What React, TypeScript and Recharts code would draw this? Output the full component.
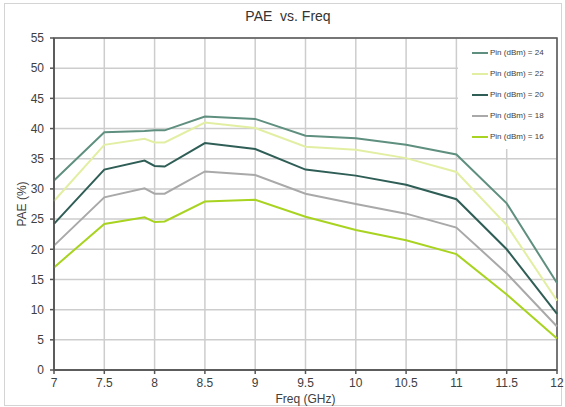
import { CartesianGrid, Line, LineChart, ReferenceArea, XAxis, YAxis } from "recharts";

const freq = [7, 7.5, 7.9, 8, 8.1, 8.5, 9, 9.5, 10, 10.5, 11, 11.5, 12];
const pin24 = [31.4, 39.4, 39.6, 39.7, 39.7, 42.0, 41.6, 38.8, 38.4, 37.3, 35.7, 27.6, 14.4];
const pin22 = [28.0, 37.3, 38.3, 37.7, 37.7, 41.0, 40.1, 37.0, 36.5, 35.1, 32.8, 24.0, 11.5];
const pin20 = [24.2, 33.2, 34.7, 33.8, 33.7, 37.6, 36.6, 33.2, 32.2, 30.7, 28.3, 20.0, 9.3];
const pin18 = [20.6, 28.6, 30.1, 29.2, 29.2, 32.9, 32.3, 29.2, 27.5, 25.9, 23.6, 16.0, 7.2];
const pin16 = [17.0, 24.2, 25.3, 24.5, 24.6, 27.9, 28.2, 25.4, 23.2, 21.5, 19.2, 12.5, 5.2];

const xTicks = [7, 7.5, 8, 8.5, 9, 9.5, 10, 10.5, 11, 11.5, 12];
const yTicks = [0, 5, 10, 15, 20, 25, 30, 35, 40, 45, 50, 55];

const series = [
  { key: "p24", name: "Pin (dBm) = 24", color: "#5f8f7f" },
  { key: "p22", name: "Pin (dBm) = 22", color: "#e2efa3" },
  { key: "p20", name: "Pin (dBm) = 20", color: "#2f5e56" },
  { key: "p18", name: "Pin (dBm) = 18", color: "#a9a9a9" },
  { key: "p16", name: "Pin (dBm) = 16", color: "#a8d320" },
];

const data = freq.map((f, i) => ({
  f,
  p24: pin24[i],
  p22: pin22[i],
  p20: pin20[i],
  p18: pin18[i],
  p16: pin16[i],
}));

const font = "'Liberation Sans', Arial, sans-serif";
const textColor = "#404040";

function LegendBox() {
  return (
    <div
      style={{
        position: "absolute",
        left: 458,
        top: 39,
        width: 98,
        height: 110,
        background: "#fff",
        paddingTop: 3,
        boxSizing: "border-box",
      }}
    >
      {series.map((s) => (
        <div key={s.key} style={{ display: "flex", alignItems: "center", height: 21, fontSize: 8, color: textColor }}>
          <div style={{ width: 16, height: 2, background: s.color, marginLeft: 14, marginRight: 2 }} />
          <span>{s.name}</span>
        </div>
      ))}
    </div>
  );
}

export default function App() {
  return (
    <div style={{ position: "absolute", left: 0, top: 0, width: 565, height: 407, background: "#fff", fontFamily: font }}>
      <div style={{ position: "absolute", left: 4, top: 3, width: 556, height: 401, border: "1px solid #d4d4d4" }} />
      <div style={{ position: "absolute", left: 0, top: 0 }}>
        <LineChart width={565} height={407} data={data} margin={{ top: 38, right: 8, left: 0, bottom: 7 }}>
          <CartesianGrid stroke="#cdcdcd" strokeWidth={1.5} />
          <XAxis
            dataKey="f"
            type="number"
            domain={[7, 12]}
            ticks={xTicks}
            height={30}
            tickSize={4}
            tickMargin={4}
            stroke="#555"
            strokeWidth={1.5}
            tick={{ fill: textColor, fontSize: 12, fontFamily: font }}
          />
          <YAxis
            width={54}
            domain={[0, 55]}
            ticks={yTicks}
            tickSize={4}
            tickMargin={6}
            stroke="#555"
            strokeWidth={1.5}
            tick={{ fill: textColor, fontSize: 12, fontFamily: font }}
          />
          <ReferenceArea x1={7} x2={12} y1={0} y2={55} fill="none" stroke="#555" strokeWidth={1.5} />
          {series.map((s) => (
            <Line
              key={s.key}
              dataKey={s.key}
              name={s.name}
              stroke={s.color}
              strokeWidth={2}
              dot={false}
              type="linear"
              isAnimationActive={false}
            />
          ))}
        </LineChart>
      </div>
      <LegendBox />
      <div style={{ position: "absolute", left: 0, width: 576, top: 8, textAlign: "center", fontSize: 14, color: "#333" }}>
        PAE&nbsp;&nbsp;vs. Freq
      </div>
      <div style={{ position: "absolute", left: 54, width: 503, top: 392, textAlign: "center", fontSize: 12, color: textColor }}>
        Freq (GHz)
      </div>
      <div
        style={{
          position: "absolute",
          left: 22,
          top: 204,
          transform: "translate(-50%, -50%) rotate(-90deg)",
          fontSize: 12,
          color: textColor,
          whiteSpace: "nowrap",
        }}
      >
        PAE (%)
      </div>
    </div>
  );
}
